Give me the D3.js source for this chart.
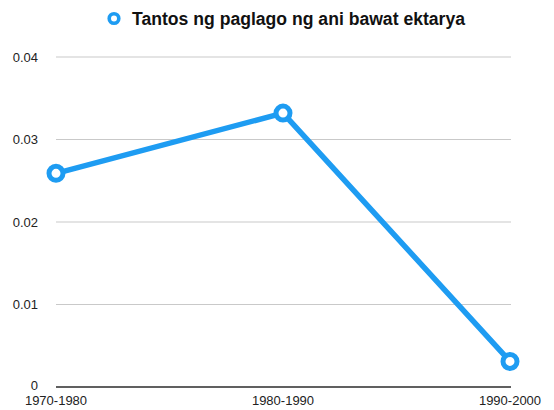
<!DOCTYPE html>
<html>
<head>
<meta charset="utf-8">
<script src="https://cdn.jsdelivr.net/npm/d3@7"></script>
<style>
  body { margin: 0; background: #fff; }
  svg text { font-family: "Liberation Sans", Arial, sans-serif; }
</style>
</head>
<body>
<div id="chart"></div>
<script>
// data
const categories = ["1970-1980", "1980-1990", "1990-2000"];
const values = [0.0259, 0.0332, 0.0031];
const yTicks = [0, 0.01, 0.02, 0.03, 0.04];
const seriesName = "Tantos ng paglago ng ani bawat ektarya";

const W = 554, H = 410;
const blue = "#1e9cf2";

const svg = d3.select("#chart").append("svg")
  .attr("width", W).attr("height", H);

const x = d3.scalePoint()
  .domain(categories)
  .range([56, 510]);

const y = d3.scaleLinear()
  .domain([0, 0.04])
  .range([387, 57]);

// gridlines
svg.append("g")
  .selectAll("line")
  .data(yTicks.filter(d => d > 0))
  .join("line")
    .attr("x1", 56).attr("x2", 511)
    .attr("y1", d => y(d)).attr("y2", d => y(d))
    .attr("stroke", "#c9c9c9").attr("stroke-width", 1);

// baseline
svg.append("line")
  .attr("x1", 56).attr("x2", 511)
  .attr("y1", y(0)).attr("y2", y(0))
  .attr("stroke", "#2b2b2b").attr("stroke-width", 1.3);

// y labels
svg.append("g")
  .selectAll("text")
  .data(yTicks)
  .join("text")
    .attr("x", 38)
    .attr("y", d => y(d) - (d === 0 ? 2 : 0))
    .attr("dy", "0.35em")
    .attr("text-anchor", "end")
    .attr("font-size", 13)
    .attr("fill", "#222")
    .text(d => d === 0 ? "0" : d3.format(".2f")(d));

// x labels
svg.append("g")
  .selectAll("text")
  .data(categories)
  .join("text")
    .attr("x", d => x(d))
    .attr("y", 405)
    .attr("text-anchor", "middle")
    .attr("font-size", 13)
    .attr("fill", "#222")
    .text(d => d);

// line
const pts = categories.map((c, i) => ({ c: c, v: values[i] }));
svg.append("path")
  .datum(pts)
  .attr("fill", "none")
  .attr("stroke", blue)
  .attr("stroke-width", 5.5)
  .attr("stroke-linejoin", "round")
  .attr("d", d3.line().x(d => x(d.c)).y(d => y(d.v)));

svg.append("g")
  .selectAll("circle")
  .data(pts)
  .join("circle")
    .attr("cx", d => x(d.c))
    .attr("cy", d => y(d.v))
    .attr("r", 7)
    .attr("fill", "#fff")
    .attr("stroke", blue)
    .attr("stroke-width", 5);

// legend
const lg = svg.append("g");
lg.append("circle")
  .attr("cx", 114).attr("cy", 18.5).attr("r", 4.8)
  .attr("fill", "#fff").attr("stroke", blue).attr("stroke-width", 3.6);
lg.append("text")
  .attr("x", 132).attr("y", 24.5)
  .attr("font-size", 17.6)
  .attr("font-weight", "bold")
  .attr("fill", "#111")
  .text(seriesName);
</script>
</body>
</html>
